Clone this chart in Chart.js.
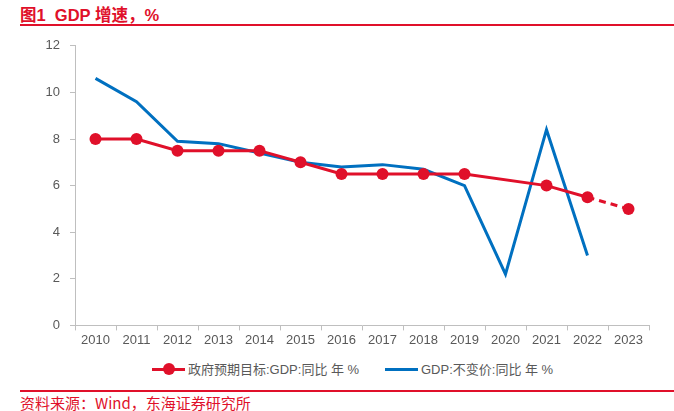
<!DOCTYPE html>
<html>
<head>
<meta charset="utf-8">
<script src="https://cdn.jsdelivr.net/npm/chart.js@4"></script>
<style>
  body { margin: 0; width: 674px; height: 411px; background: #fff; position: relative; overflow: hidden;
         font-family: "Liberation Sans", "Noto Sans CJK SC", sans-serif; }
  #title { position: absolute; left: 20px; top: 2px; color: #e0102a; font-weight: bold; font-size: 16.5px;
           font-family: "Liberation Sans", "Noto Sans CJK SC", sans-serif; }
  #topline { position: absolute; left: 20px; right: 0; top: 24px; height: 2px; background: #e0102a; }
  #wrap { position: absolute; left: 0; top: 28px; width: 662px; height: 322px; }
  #legend { position: absolute; top: 359px; left: 0; width: 674px; font-size: 13px; color: #595959;
            font-family: "Liberation Sans", "Noto Sans CJK SC", sans-serif; }
  .item { position: absolute; top: 0; white-space: nowrap; }
  .sw { position: absolute; top: 9px; width: 33px; height: 3px; }
  .dot { position: absolute; top: 4px; left: 11px; width: 12px; height: 12px; border-radius: 50%; background: #e0102a; }
  .lbl { position: absolute; left: 36px; top: 0; }
  #botline { position: absolute; left: 20px; right: 0; top: 390px; height: 2px; background: #e0102a; }
  #source { position: absolute; left: 20px; top: 392px; color: #e0102a; font-size: 15px;
            font-family: "Noto Sans CJK SC", sans-serif; }
</style>
</head>
<body>
<div id="title">图1&nbsp; GDP 增速，%</div>
<div id="topline"></div>
<div id="wrap"><canvas id="c"></canvas></div>
<div id="legend">
  <div class="item" style="left:152px">
    <div class="sw" style="background:#e0102a"></div><div class="dot"></div>
    <div class="lbl">政府预期目标:GDP:同比 年 %</div>
  </div>
  <div class="item" style="left:385px">
    <div class="sw" style="background:#0070c0"></div>
    <div class="lbl">GDP:不变价:同比 年 %</div>
  </div>
</div>
<div id="botline"></div>
<div id="source">资料来源：Wind，东海证券研究所</div>
<script>
const years = ['2010','2011','2012','2013','2014','2015','2016','2017','2018','2019','2020','2021','2022','2023'];
const targetGdp = [8, 8, 7.5, 7.5, 7.5, 7, 6.5, 6.5, 6.5, 6.5, null, 6, 5.5, 5];
const actualGdp = [10.6, 9.6, 7.9, 7.8, 7.4, 7.0, 6.8, 6.9, 6.7, 6.0, 2.2, 8.4, 3.0, null];
const yTicks = [0, 2, 4, 6, 8, 10, 12];

const red = '#e0102a';
const blue = '#0070c0';
const axisGrey = '#bfbfbf';
const tickFont = { family: 'Liberation Sans', size: 13 };

const ctx = document.getElementById('c').getContext('2d');
new Chart(ctx, {
    type: 'line',
    data: {
        labels: years,
        datasets: [{
            label: '政府预期目标:GDP:同比 年 %',
            data: targetGdp,
            borderColor: red,
            backgroundColor: red,
            borderWidth: 3,
            pointRadius: 6,
            pointHoverRadius: 6,
            pointBackgroundColor: red,
            pointBorderWidth: 0,
            tension: 0,
            spanGaps: true,
            segment: {
                borderDash: c => c.p0DataIndex >= 12 ? [7, 5] : undefined
            },
            order: 1
        }, {
            label: 'GDP:不变价:同比 年 %',
            data: actualGdp,
            borderColor: blue,
            backgroundColor: blue,
            borderWidth: 3,
            pointRadius: 0,
            tension: 0,
            order: 2
        }]
    },
    options: {
        responsive: true,
        maintainAspectRatio: false,
        animation: false,
        layout: { padding: { top: 7, right: 13, bottom: 0, left: 0 } },
        scales: {
            x: {
                offset: true,
                grid: { display: true, drawOnChartArea: false, offset: true, color: axisGrey, tickLength: 5 },
                border: { color: axisGrey, width: 1 },
                ticks: { color: '#595959', font: tickFont, maxRotation: 0, autoSkip: false, padding: 2 }
            },
            y: {
                min: 0,
                max: 12,
                afterBuildTicks: axis => { axis.ticks = yTicks.map(v => ({ value: v })); },
                afterFit: axis => { axis.width = 75; },
                grid: { display: true, drawOnChartArea: false, color: axisGrey, tickLength: 5 },
                border: { color: axisGrey, width: 1 },
                ticks: { color: '#595959', font: tickFont, padding: 10 }
            }
        },
        plugins: {
            legend: { display: false },
            tooltip: { enabled: false }
        }
    }
});
</script>
</body>
</html>
